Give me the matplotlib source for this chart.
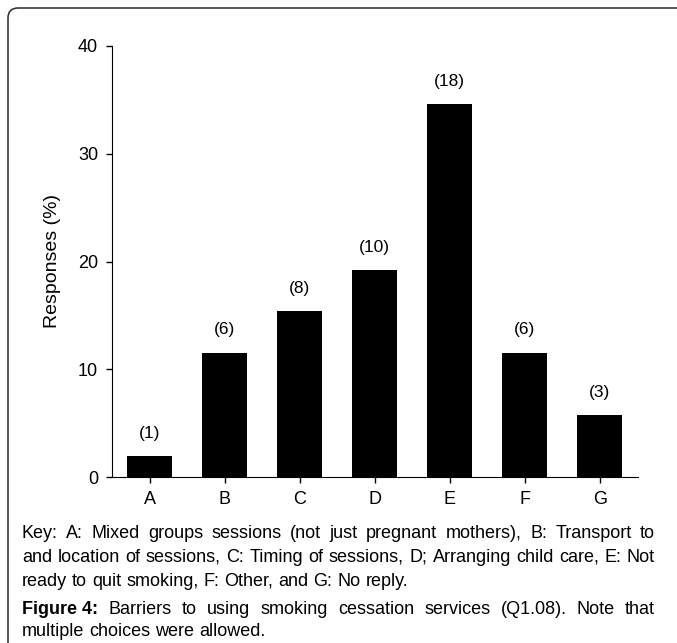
import matplotlib
matplotlib.use('Agg')
import matplotlib.pyplot as plt
from matplotlib.patches import FancyBboxPatch
from matplotlib.transforms import IdentityTransform

# dados
categorias = ['A', 'B', 'C', 'D', 'E', 'F', 'G']
contagens = [1, 6, 8, 10, 18, 6, 3]
total = 52
percentuais = [c / total * 100 for c in contagens]

legenda_linhas = [
    'Key: A: Mixed groups sessions (not just pregnant mothers), B: Transport to',
    'and location of sessions, C: Timing of sessions, D; Arranging child care, E: Not',
    'ready to quit smoking, F: Other, and G: No reply.',
]
figura_rotulo = 'Figure 4:'
figura_linhas = [
    ' Barriers to using smoking cessation services (Q1.08). Note that',
    'multiple choices were allowed.',
]

plt.rcParams['font.family'] = ['Liberation Sans', 'DejaVu Sans']
fonte_legenda = ['Liberation Sans Narrow', 'Liberation Sans', 'DejaVu Sans']

W, H = 677, 643
fig = plt.figure(figsize=(W / 100, H / 100), dpi=100)

# moldura com canto arredondado (so topo e esquerda visiveis)
moldura = FancyBboxPatch((8, -40), 760, H - 8 + 40, boxstyle='round,pad=0,rounding_size=10',
                         transform=IdentityTransform(), fill=False, edgecolor='#2b2b2b',
                         linewidth=1.1)
fig.patches.append(moldura)

ax = fig.add_axes([112 / W, (H - 477) / H, (637.5 - 112) / W, (477 - 46) / H])
x = list(range(len(categorias)))
barras = ax.bar(x, percentuais, width=0.6, color='black')
for xi, p, c in zip(x, percentuais, contagens):
    ax.annotate(f'({c})', (xi, p), xytext=(0, 11), textcoords='offset points',
                ha='center', va='bottom', fontsize=12.5)

ax.set_xlim(-0.5, 6.5)
ax.set_ylim(0, 40)
ax.set_yticks([0, 10, 20, 30, 40])
ax.set_xticks(x)
ax.set_xticklabels(categorias)
ax.spines['top'].set_visible(False)
ax.spines['right'].set_visible(False)
ax.tick_params(direction='out', length=4, width=1, labelsize=13, pad=6)
ax.set_ylabel('Responses (%)', fontsize=14, labelpad=12)

# texto justificado
fig.canvas.draw()
renderer = fig.canvas.get_renderer()


def linha_justificada(y, texto, esquerda=22, direita=655, justificar=True, tamanho=13,
                      prefixo=None):
    partes = []
    if prefixo:
        partes.append((prefixo, 'bold'))
    for p in texto.split():
        partes.append((p, 'normal'))
    objs = []
    for t, peso in partes:
        o = fig.text(0, 1 - y / H, t, fontsize=tamanho, family=fonte_legenda,
                     fontweight=peso, va='baseline', ha='left')
        objs.append(o)
    larguras = [o.get_window_extent(renderer).width for o in objs]
    if justificar and len(objs) > 1:
        gap = (direita - esquerda - sum(larguras)) / (len(objs) - 1)
    else:
        espaco = fig.text(0, 0, 'a a', fontsize=tamanho, family=fonte_legenda)
        e2 = fig.text(0, 0, 'aa', fontsize=tamanho, family=fonte_legenda)
        gap = espaco.get_window_extent(renderer).width - e2.get_window_extent(renderer).width
        espaco.remove()
        e2.remove()
    xpos = esquerda
    for o, w in zip(objs, larguras):
        o.set_x(xpos / W)
        xpos += w + gap


linha_justificada(538, legenda_linhas[0])
linha_justificada(562, legenda_linhas[1])
linha_justificada(586, legenda_linhas[2], justificar=False)
linha_justificada(614, figura_linhas[0], prefixo=figura_rotulo)
linha_justificada(636, figura_linhas[1], justificar=False)

fig.savefig('out.png', dpi=100)
